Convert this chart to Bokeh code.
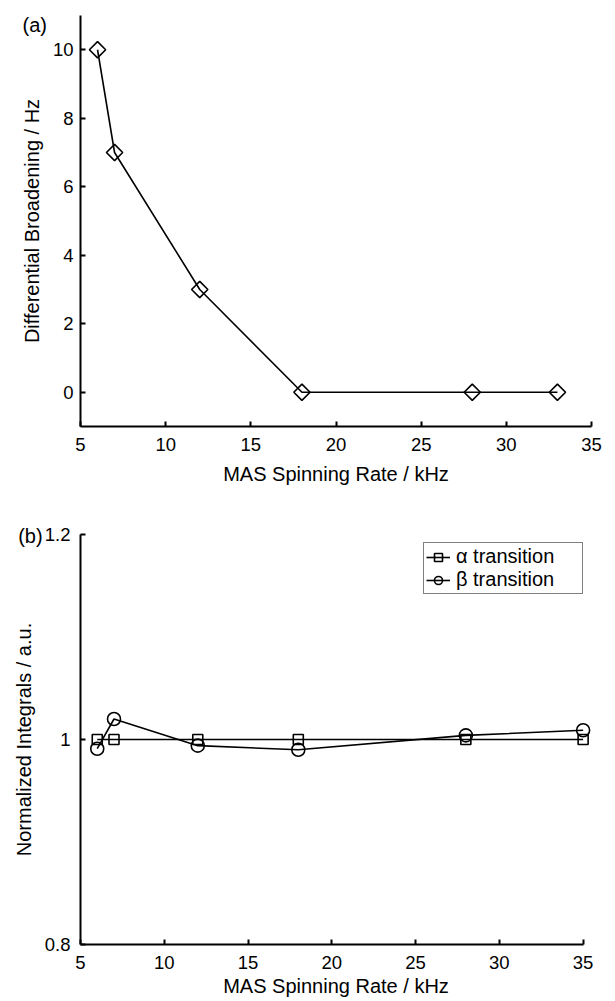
import math
from bokeh.plotting import figure
from bokeh.layouts import column
from bokeh.models import (Range1d, FixedTicker, Label, Legend, LegendItem,
                          CustomJSTickFormatter)
from bokeh.embed import file_html
from bokeh.resources import INLINE

# ---------------- data ----------------
# panel (a)
rate_a = [6, 7, 12, 18, 28, 33]
broadening = [10, 7, 3, 0, 0, 0]
# panel (b)
rate_b = [6, 7, 12, 18, 28, 35]
alpha_int = [1.0, 1.0, 1.0, 1.0, 1.0, 1.0]
beta_int = [0.991, 1.020, 0.994, 0.990, 1.004, 1.009]

x_ticks = [5, 10, 15, 20, 25, 30, 35]
ya_ticks = [0, 2, 4, 6, 8, 10]
yb_ticks = [0.8, 1.0, 1.2]

x_label = "MAS Spinning Rate / kHz"
ya_label = "Differential Broadening / Hz"
yb_label = "Normalized Integrals / a.u."
series_names = ["\u03b1 transition", "\u03b2 transition"]

FONT = "Liberation Sans"


def style_axes(p):
    for ax in (p.xaxis[0], p.yaxis[0]):
        ax.axis_line_width = 2
        ax.axis_line_color = "black"
        ax.major_tick_in = 5
        ax.major_tick_out = 0
        ax.major_tick_line_width = 2
        ax.major_tick_line_color = "black"
        ax.minor_tick_line_color = None
        ax.major_label_text_font = FONT
        ax.major_label_text_font_size = "18.5px"
        ax.major_label_text_color = "black"
        ax.axis_label_text_font = FONT
        ax.axis_label_text_font_size = "20px"
        ax.axis_label_text_font_style = "normal"
        ax.axis_label_text_color = "black"
    p.xgrid.visible = False
    p.ygrid.visible = False
    p.outline_line_color = None


# ---------------- panel (a) ----------------
p1 = figure(width=615, height=490, output_backend="svg", toolbar_location=None,
            x_range=Range1d(5, 35), y_range=Range1d(-1, 11),
            min_border_left=71, min_border_right=23, min_border_top=15,
            min_border_bottom=64)
style_axes(p1)
p1.xaxis[0].ticker = FixedTicker(ticks=x_ticks)
p1.yaxis[0].ticker = FixedTicker(ticks=ya_ticks)
p1.xaxis[0].axis_label = x_label
p1.yaxis[0].axis_label = ya_label
p1.xaxis[0].major_label_standoff = 11
p1.xaxis[0].axis_label_standoff = 9
p1.yaxis[0].major_label_standoff = 7
p1.yaxis[0].axis_label_standoff = 7

p1.line(rate_a, broadening, line_color="black", line_width=1.6)
p1.scatter(rate_a, broadening, marker="square", angle=math.pi / 4, size=11.5,
           fill_color=None, line_color="black", line_width=1.6)
# panel tag, kept in a side panel so that it is not clipped to the frame
p1.add_layout(Label(x=1.6, y=10.71, text="(a)", text_font=FONT,
                    text_font_size="20px", text_baseline="middle",
                    text_align="left", text_color="black"), "right")

# ---------------- panel (b) ----------------
p2 = figure(width=615, height=511, output_backend="svg", toolbar_location=None,
            x_range=Range1d(5, 35.5), y_range=Range1d(0.8, 1.2),
            min_border_left=80, min_border_right=6, min_border_top=44,
            min_border_bottom=57)
style_axes(p2)
p2.xaxis[0].bounds = (5, 35)
p2.xaxis[0].ticker = FixedTicker(ticks=x_ticks)
p2.yaxis[0].ticker = FixedTicker(ticks=yb_ticks)
p2.yaxis[0].formatter = CustomJSTickFormatter(
    code="return (Math.round(tick * 10) / 10).toString();")
p2.xaxis[0].axis_label = x_label
p2.yaxis[0].axis_label = yb_label
p2.xaxis[0].major_label_standoff = 11
p2.xaxis[0].axis_label_standoff = 3
p2.yaxis[0].major_label_standoff = 10
p2.yaxis[0].axis_label_standoff = 7

la = p2.line(rate_b, alpha_int, line_color="black", line_width=1.6)
sa = p2.scatter(rate_b, alpha_int, marker="square", size=10,
                fill_color=None, line_color="black", line_width=1.6)
lb = p2.line(rate_b, beta_int, line_color="black", line_width=1.6)
sb = p2.scatter(rate_b, beta_int, marker="circle", size=13,
                fill_color=None, line_color="black", line_width=1.6)

legend = Legend(items=[LegendItem(label=series_names[0], renderers=[la, sa]),
                       LegendItem(label=series_names[1], renderers=[lb, sb])],
                location="top_right", margin=8, border_line_color="black",
                border_line_width=1.5, padding=2, spacing=0,
                glyph_width=24, glyph_height=20, label_height=20,
                label_standoff=6, label_width=124,
                label_text_font=FONT, label_text_font_size="20px",
                label_text_color="black", background_fill_color="white",
                background_fill_alpha=1.0)
p2.add_layout(legend)
p2.add_layout(Label(x=1.28, y=1.199, text="(b)", text_font=FONT,
                    text_font_size="20px", text_baseline="middle",
                    text_align="left", text_color="black"), "above")

layout = column(p1, p2)
open("out.html", "w").write(file_html(layout, INLINE))
